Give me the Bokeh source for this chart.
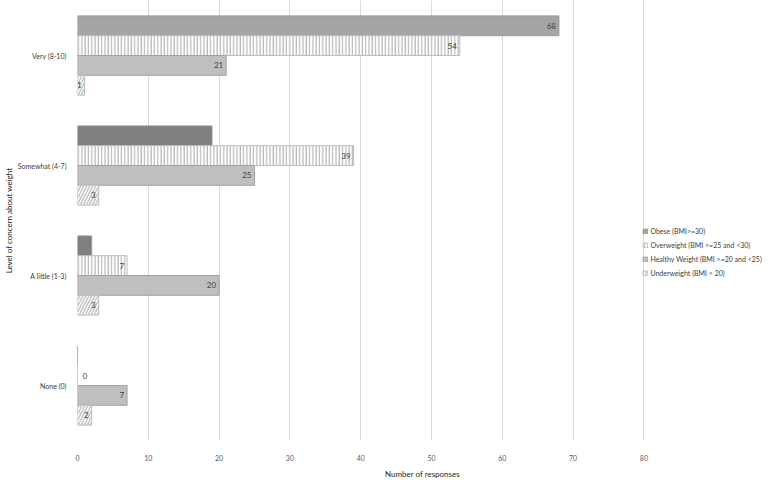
from bokeh.plotting import figure
from bokeh.models import ColumnDataSource, FactorRange, Range1d, Legend, LegendItem, FixedTicker
from bokeh.transform import dodge
from bokeh.embed import file_html
from bokeh.resources import INLINE
from bokeh.core.properties import value, field

# ---- data ----
categories = ["Very (8-10)", "Somewhat (4-7)", "A little (1-3)", "None (0)"]
series_names = ["Obese (BMI>=30)", "Overweight (BMI >=25 and <30)",
                "Healthy Weight (BMI >=20 and <25)", "Underweight (BMI < 20)"]
obese = [68, 19, 2, 0]
overweight = [54, 39, 7, 0]
healthy = [21, 25, 20, 7]
underweight = [1, 3, 3, 2]
obese_labels = ["68", "", "", ""]
overweight_labels = ["54", "39", "7", "0"]
healthy_labels = ["21", "25", "20", "7"]
underweight_labels = ["1", "3", "3", "2"]
x_ticks = [0, 10, 20, 30, 40, 50, 60, 70, 80]

FONT = "Lato"
FRAME_W = 690
PX_PER_UNIT = 7.08

p = figure(frame_width=FRAME_W, frame_height=440, output_backend="svg", toolbar_location=None,
           y_range=FactorRange(factors=list(reversed(categories))),
           x_range=Range1d(0, FRAME_W / PX_PER_UNIT),
           min_border_left=0, min_border_right=0, min_border_top=0, min_border_bottom=0)
p.outline_line_color = None
p.background_fill_color = "white"

bar_h = 0.18
offsets = [0.27, 0.09, -0.09, -0.27]
values_all = [obese, overweight, healthy, underweight]
labels_all = [obese_labels, overweight_labels, healthy_labels, underweight_labels]

styles = [
    dict(fill_color=["#a5a5a5", "#7f7f7f", "#7f7f7f", "#7f7f7f"], line_color="#9a9a9a",
         hatch_pattern=None),
    dict(fill_color="white", line_color="#bdbdbd", hatch_pattern="|",
         hatch_color="#a8a8a8", hatch_scale=3.3, hatch_weight=1),
    dict(fill_color="#bfbfbf", line_color="#a3a3a3", hatch_pattern=None),
    dict(fill_color="white", line_color="#bdbdbd", hatch_pattern="/",
         hatch_color="#c4c4c4", hatch_scale=6, hatch_weight=1.5),
]

renderers = []
for vals, labs, off, st in zip(values_all, labels_all, offsets, styles):
    data = dict(cat=categories, val=vals, lab=labs,
                align=["left" if v == 0 else "right" for v in vals],
                xoff=[5 if v == 0 else -3 for v in vals])
    fc = st["fill_color"]
    if isinstance(fc, list):
        data["fc"] = fc
        fill = "fc"
    else:
        fill = fc
    src = ColumnDataSource(data)
    kw = dict(line_color=st["line_color"], line_width=1)
    if st.get("hatch_pattern"):
        kw.update(hatch_pattern=st["hatch_pattern"], hatch_color=st["hatch_color"],
                  hatch_scale=st["hatch_scale"], hatch_weight=st["hatch_weight"])
    r = p.hbar(y=dodge("cat", off, range=p.y_range), left=0, right="val", height=bar_h,
               fill_color=fill, source=src, **kw)
    renderers.append(r)
    p.text(x="val", y=dodge("cat", off, range=p.y_range), text="lab", source=src,
           text_align=field("align"), x_offset=field("xoff"), text_baseline="middle",
           text_font=value(FONT), text_font_size="8px", text_color="#404040")

legend = Legend(items=[LegendItem(label=n, renderers=[r]) for n, r in zip(series_names, renderers)],
                location=(80 * PX_PER_UNIT - 1, 163), label_text_font=FONT, label_text_font_size="7px",
                label_text_color="#404040", glyph_width=6, glyph_height=6, label_height=8,
                spacing=6, padding=0, margin=0, label_standoff=2,
                border_line_alpha=0, background_fill_alpha=0)
p.add_layout(legend, "center")

p.xaxis.ticker = FixedTicker(ticks=x_ticks)
p.xaxis.axis_line_color = None
p.xaxis.major_tick_line_color = None
p.xaxis.minor_tick_line_color = None
p.xaxis.major_label_text_font = FONT
p.xaxis.major_label_text_font_size = "7px"
p.xaxis.major_label_text_color = "#595959"
p.xaxis.major_label_standoff = 8
p.xaxis.axis_label = "Number of responses"
p.xaxis.axis_label_text_font = FONT
p.xaxis.axis_label_text_font_size = "8px"
p.xaxis.axis_label_text_font_style = "normal"
p.xaxis.axis_label_text_color = "#262626"
p.xaxis.axis_label_standoff = 5

p.yaxis.axis_line_color = None
p.yaxis.major_tick_line_color = None
p.yaxis.minor_tick_line_color = None
p.yaxis.major_label_text_font = FONT
p.yaxis.major_label_text_font_size = "7px"
p.yaxis.major_label_text_color = "#404040"
p.yaxis.major_label_standoff = 5
p.yaxis.axis_label = "Level of concern about weight"
p.yaxis.axis_label_text_font = FONT
p.yaxis.axis_label_text_font_size = "8px"
p.yaxis.axis_label_text_font_style = "normal"
p.yaxis.axis_label_text_color = "#262626"
p.yaxis.axis_label_standoff = 1

p.xgrid.grid_line_color = "#d9d9d9"
p.xgrid.grid_line_width = 1
p.ygrid.grid_line_color = None

open("out.html", "w").write(file_html(p, INLINE))
